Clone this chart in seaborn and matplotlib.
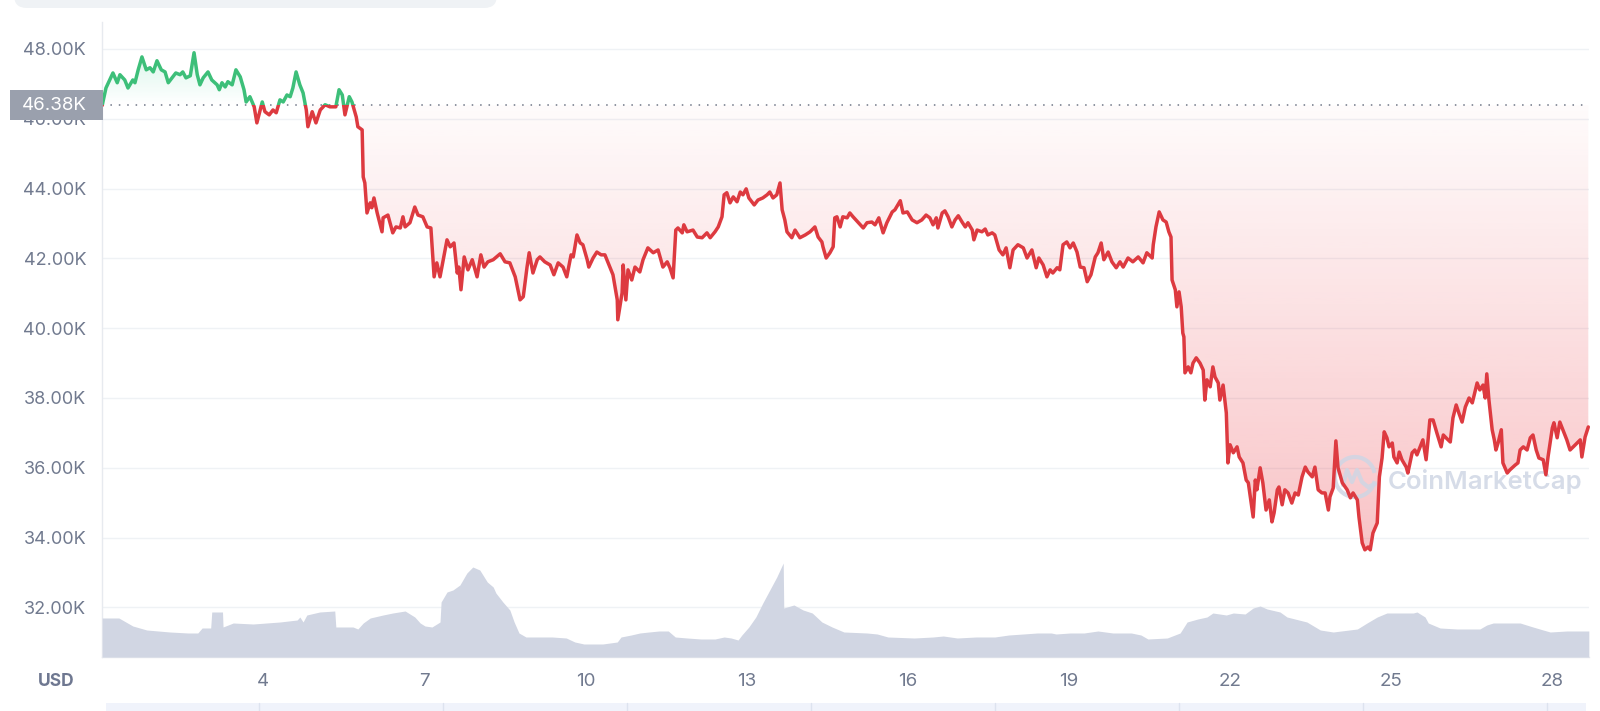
import numpy as np
import matplotlib
matplotlib.use("Agg")
import matplotlib.pyplot as plt
import seaborn as sns
from matplotlib import transforms
from matplotlib.patches import Rectangle, FancyBboxPatch, Arc
from matplotlib.lines import Line2D
from matplotlib.colors import to_rgb

# ---- price (USD); x = day of month ----
days_a = [1.00, 1.07, 1.20, 1.28, 1.33, 1.42, 1.48, 1.57, 1.61, 1.67,
          1.74, 1.82, 1.89, 1.95, 2.02, 2.10, 2.17, 2.23, 2.30, 2.37,
          2.45, 2.50, 2.56, 2.64, 2.71, 2.77, 2.82, 2.88, 2.97, 3.04,
          3.14, 3.18, 3.23, 3.29, 3.34, 3.42, 3.49, 3.57, 3.64, 3.68,
          3.75, 3.83, 3.88, 3.98, 4.03, 4.11, 4.18, 4.24, 4.31, 4.37,
          4.44, 4.50, 4.55, 4.61, 4.68, 4.74, 4.80, 4.83, 4.91, 4.98,
          5.06, 5.15, 5.24, 5.35, 5.41, 5.47, 5.52, 5.60, 5.65, 5.73,
          5.76, 5.84, 5.86, 5.89, 5.93, 5.99, 6.02, 6.06, 6.12, 6.21,
          6.23, 6.32, 6.41, 6.47, 6.55, 6.60, 6.64, 6.73, 6.82, 6.88,
          6.97, 7.05, 7.12, 7.18, 7.23, 7.29, 7.35, 7.42, 7.48, 7.55,
          7.61, 7.64, 7.68, 7.74, 7.81, 7.89, 7.98, 8.05, 8.11, 8.18]
price_a = [46380, 46880, 47310, 47030, 47260, 47110, 46880, 47110, 47030, 47400,
           47770, 47400, 47460, 47340, 47660, 47400, 47340, 47030, 47170, 47310,
           47260, 47340, 47170, 47230, 47890, 47260, 46970, 47170, 47340, 47110,
           46970, 46830, 47030, 46910, 47060, 46970, 47400, 47200, 46830, 46480,
           46630, 46340, 45880, 46480, 46200, 46110, 46250, 46170, 46540, 46480,
           46680, 46630, 46880, 47340, 46970, 46740, 46250, 45770, 46200, 45880,
           46250, 46400, 46340, 46340, 46830, 46680, 46110, 46630, 46480, 46050,
           45770, 45680, 44330, 44160, 43300, 43590, 43450, 43730, 43300, 42760,
           43160, 43240, 42730, 42900, 42870, 43190, 42900, 43020, 43470, 43240,
           43190, 42900, 42870, 41470, 41870, 41470, 41960, 42530, 42330, 42440,
           41580, 41750, 41100, 42040, 41670, 41960, 41470, 42100, 41750, 41900]

days_b = [8.28, 8.41, 8.50, 8.59, 8.69, 8.78, 8.84, 8.91, 8.95, 9.02,
          9.10, 9.15, 9.24, 9.34, 9.41, 9.49, 9.58, 9.65, 9.73, 9.77,
          9.84, 9.90, 9.95, 10.03, 10.06, 10.14, 10.21, 10.29, 10.36, 10.42,
          10.51, 10.59, 10.60, 10.68, 10.70, 10.75, 10.79, 10.86, 10.92, 11.01,
          11.07, 11.16, 11.26, 11.35, 11.44, 11.52, 11.57, 11.63, 11.68, 11.72,
          11.80, 11.83, 11.89, 12.00, 12.08, 12.17, 12.26, 12.32, 12.41, 12.47,
          12.54, 12.58, 12.63, 12.69, 12.75, 12.82, 12.88, 12.93, 12.99, 13.04,
          13.14, 13.21, 13.30, 13.38, 13.43, 13.49, 13.56, 13.62, 13.66, 13.71,
          13.75, 13.84, 13.90, 13.99, 14.09, 14.18, 14.27, 14.33, 14.40, 14.42,
          14.48, 14.55, 14.61, 14.64, 14.68, 14.74, 14.79, 14.87, 14.92, 14.98,
          15.07, 15.17, 15.24, 15.33, 15.39, 15.46, 15.54, 15.61, 15.71, 15.76]
price_b = [41960, 42130, 41900, 41870, 41470, 40810, 40900, 41750, 42160, 41580,
           41960, 42040, 41900, 41810, 41530, 41870, 41750, 41470, 42100, 42040,
           42670, 42440, 42390, 41960, 41750, 42010, 42180, 42100, 42100, 41870,
           41530, 40810, 40240, 41010, 41810, 40810, 41670, 41380, 41750, 41610,
           41960, 42300, 42160, 42240, 41750, 41900, 41730, 41440, 42810, 42870,
           42730, 42960, 42760, 42810, 42610, 42590, 42730, 42590, 42760, 42900,
           43190, 43820, 43880, 43590, 43760, 43620, 43900, 43820, 43990, 43730,
           43530, 43670, 43730, 43820, 43900, 43730, 43820, 44160, 43390, 43100,
           42760, 42590, 42810, 42590, 42670, 42760, 42900, 42610, 42470, 42330,
           42010, 42160, 42330, 43160, 43190, 42900, 43190, 43160, 43300, 43190,
           43040, 42870, 43020, 43040, 42960, 43160, 42730, 43020, 43330, 43390]

days_c = [15.86, 15.91, 15.99, 16.08, 16.17, 16.26, 16.34, 16.41, 16.47, 16.53,
          16.56, 16.64, 16.69, 16.75, 16.82, 16.88, 16.94, 17.01, 17.07, 17.12,
          17.20, 17.23, 17.29, 17.38, 17.44, 17.49, 17.57, 17.62, 17.70, 17.77,
          17.83, 17.90, 17.96, 18.05, 18.15, 18.22, 18.31, 18.39, 18.44, 18.52,
          18.59, 18.65, 18.70, 18.78, 18.83, 18.89, 18.96, 19.02, 19.08, 19.15,
          19.21, 19.28, 19.34, 19.41, 19.49, 19.54, 19.60, 19.65, 19.73, 19.80,
          19.88, 19.95, 20.01, 20.10, 20.19, 20.29, 20.38, 20.45, 20.55, 20.57,
          20.62, 20.68, 20.75, 20.81, 20.86, 20.90, 20.92, 20.98, 21.01, 21.05,
          21.09, 21.12, 21.14, 21.16, 21.22, 21.27, 21.31, 21.37, 21.44, 21.50,
          21.53, 21.57, 21.63, 21.68, 21.72, 21.78, 21.81, 21.87, 21.93, 21.96,
          22.00, 22.06, 22.13, 22.17, 22.24, 22.30, 22.34, 22.43, 22.47, 22.50]
price_c = [43650, 43300, 43330, 43100, 43020, 43100, 43240, 43160, 42960, 43160,
           42870, 43300, 43360, 43190, 42900, 43100, 43220, 43040, 42900, 43020,
           42810, 42530, 42810, 42760, 42840, 42670, 42730, 42670, 42240, 42100,
           42300, 41730, 42240, 42390, 42300, 42010, 42240, 41730, 42010, 41810,
           41470, 41670, 41580, 41730, 41670, 42390, 42470, 42300, 42440, 42180,
           41750, 41730, 41330, 41530, 42040, 42160, 42440, 41960, 42180, 41900,
           41730, 41900, 41750, 42010, 41900, 42040, 41870, 42160, 42010, 42390,
           42900, 43330, 43100, 43040, 42760, 42610, 41380, 41100, 40610, 41040,
           40610, 39860, 39750, 38720, 38890, 38720, 39000, 39150, 39000, 38800,
           37940, 38520, 38320, 38890, 38600, 38430, 37940, 38370, 37570, 36140,
           36660, 36430, 36600, 36310, 36140, 35650, 35570, 34590, 35650, 35370]

days_d = [22.56, 22.61, 22.67, 22.73, 22.78, 22.82, 22.88, 22.91, 22.97, 23.02,
          23.08, 23.15, 23.21, 23.27, 23.34, 23.40, 23.45, 23.53, 23.58, 23.64,
          23.71, 23.77, 23.83, 23.86, 23.92, 23.97, 24.01, 24.09, 24.18, 24.24,
          24.29, 24.37, 24.40, 24.46, 24.51, 24.57, 24.61, 24.66, 24.74, 24.78,
          24.83, 24.87, 24.92, 24.96, 25.02, 25.05, 25.11, 25.15, 25.20, 25.28,
          25.31, 25.39, 25.44, 25.48, 25.54, 25.59, 25.65, 25.69, 25.72, 25.78,
          25.85, 25.93, 25.97, 26.02, 26.10, 26.15, 26.21, 26.26, 26.32, 26.38,
          26.45, 26.51, 26.60, 26.65, 26.71, 26.75, 26.78, 26.82, 26.88, 26.92,
          26.95, 26.99, 27.05, 27.08, 27.16, 27.21, 27.31, 27.36, 27.40, 27.46,
          27.53, 27.59, 27.64, 27.70, 27.75, 27.83, 27.88, 27.92, 28.00, 28.03,
          28.09, 28.14, 28.27, 28.33, 28.39, 28.52, 28.55, 28.61, 28.67]
price_d = [36000, 35570, 34790, 35080, 34450, 34710, 35370, 35450, 34940, 35370,
           35280, 34990, 35280, 35220, 35740, 36020, 35880, 35740, 36020, 35370,
           35280, 35280, 34790, 35170, 35420, 36770, 36000, 35570, 35370, 35140,
           35280, 35080, 34590, 33850, 33650, 33730, 33650, 34130, 34420, 35740,
           36280, 37030, 36860, 36600, 36710, 36310, 36140, 36450, 36230, 36020,
           35850, 36430, 36510, 36370, 36600, 36800, 36230, 36860, 37370, 37370,
           37000, 36600, 36940, 36860, 36740, 37430, 37800, 37570, 37310, 37740,
           38000, 37860, 38430, 38230, 38370, 38000, 38690, 37940, 37090, 36800,
           36510, 36710, 37090, 36140, 35850, 35940, 36080, 36140, 36510, 36600,
           36510, 36860, 36940, 36510, 36280, 36230, 35800, 36310, 37140, 37290,
           36860, 37310, 36800, 36510, 36600, 36800, 36310, 36880, 37170]

# ---- 24h volume (billion USD, no scale shown on the chart) ----
vol_days = [1.00, 1.31, 1.57, 1.83, 2.26, 2.60, 2.78, 2.86, 3.02, 3.04,
            3.24, 3.25, 3.44, 3.81, 4.31, 4.63, 4.68, 4.74, 4.81, 5.05,
            5.33, 5.35, 5.67, 5.76, 5.86, 5.99, 6.23, 6.41, 6.64, 6.82,
            6.92, 7.01, 7.14, 7.29, 7.31, 7.42, 7.53, 7.66, 7.79, 7.90,
            8.03, 8.17, 8.28, 8.33, 8.46, 8.59, 8.67, 8.76, 8.89, 9.38,
            9.64, 9.80, 9.97, 10.32, 10.59, 10.66, 10.85, 11.01, 11.18, 11.37,
            11.54, 11.67, 11.89, 12.15, 12.41, 12.58, 12.71, 12.84, 12.91, 13.04,
            13.17, 13.30, 13.43, 13.56, 13.68, 13.69, 13.88, 14.05, 14.22, 14.40,
            14.59, 14.81, 15.24, 15.43, 15.63, 16.12, 16.47, 16.66, 16.92, 17.27,
            17.62, 17.88, 18.15, 18.41, 18.67, 18.76, 19.02, 19.28, 19.54, 19.82,
            20.16, 20.34, 20.47, 20.83, 21.07, 21.20, 21.40, 21.57, 21.68, 21.93,
            22.06, 22.28, 22.43, 22.56, 22.69, 22.93, 23.06, 23.43, 23.68, 23.92,
            24.37, 24.55, 24.74, 24.92, 25.41, 25.48, 25.63, 25.69, 25.91, 26.23,
            26.65, 26.78, 26.90, 27.40, 27.64, 27.83, 27.96, 28.27, 28.68]
vol_bn = [19.5, 19.5, 15.5, 13.5, 12.5, 12, 12, 14.5, 14.5, 22.5,
          22.5, 15, 17, 16.5, 17.5, 18.5, 20, 17.5, 21, 22.5,
          23, 15, 15, 14, 17, 19.5, 21, 22, 23, 20,
          17, 15.5, 15, 17.5, 27.5, 32.5, 33.5, 36, 42, 45,
          43.5, 37.5, 35, 32, 27.5, 23.5, 17.5, 12, 10, 10,
          9.5, 7.5, 6.5, 6.5, 7.5, 10, 11, 12, 12.5, 13,
          13, 10, 9.5, 9, 9, 10, 9.5, 8.5, 11, 15,
          20, 27, 33.5, 40, 47, 24.5, 26, 23.5, 22, 17.5,
          15, 12.5, 12, 11.5, 10, 9.5, 10, 10.5, 9.5, 10,
          10, 11, 11.5, 12, 12, 11.5, 12, 12, 13, 12,
          12, 11, 9, 9.5, 12, 17.5, 19, 20, 22, 21,
          22, 21.5, 24.5, 25.5, 24, 22.5, 20, 17.5, 13.5, 12.5,
          14, 17, 20, 22, 22, 22.5, 20, 17, 14.5, 14,
          14, 16, 17, 17, 15, 13.5, 12.5, 13, 13]

open_price = 46380
price_ticks = [32000, 34000, 36000, 38000, 40000, 42000, 44000, 46000, 48000]
day_ticks = [4, 7, 10, 13, 16, 19, 22, 25, 28]

days = np.array(days_a + days_b + days_c + days_d)
price = np.array(price_a + price_b + price_c + price_d, dtype=float)
assert len(days) == len(price) and len(vol_days) == len(vol_bn)

GREEN = "#3dbf79"
RED = "#dd3a40"
LABEL = "#717a8f"

sns.set_style("white")
plt.rcParams["font.family"] = ["Inter", "DejaVu Sans"]

W, H = 1600, 711


def fx(px):
    return px / W


def fy(py):
    return 1 - py / H


fig = plt.figure(figsize=(16, 7.11), dpi=100)
pos = [fx(102.2), fy(657), fx(1589) - fx(102.2), fy(22) - fy(657)]
ax = fig.add_axes(pos)
ax_vol = fig.add_axes(pos, sharex=ax)
ax_vol.set_zorder(ax.get_zorder() + 1)
ax_vol.patch.set_visible(False)

x0, x1 = 1.0, 28.683
y0, y1 = 30580, 48770


def gradient_fill(lower, upper, color, a_bot, a_top, lo, hi):
    poly = ax.fill_between(days, lower, upper, facecolor="none", edgecolor="none")
    rgba = np.zeros((256, 1, 4))
    rgba[..., :3] = to_rgb(color)
    rgba[:, 0, 3] = np.linspace(a_bot, a_top, 256)
    img = ax.imshow(rgba, extent=[days.min(), days.max(), lo, hi], origin="lower",
                    aspect="auto", interpolation="bilinear", zorder=1)
    img.set_clip_path(poly.get_paths()[0], transform=ax.transData)


# gradient areas between the price and the opening price
gradient_fill(open_price, np.maximum(price, open_price), "#16c784", 0.0, 0.16,
              open_price, price.max())
gradient_fill(np.minimum(price, open_price), open_price, "#ea3943", 0.30, 0.02,
              price.min(), open_price)

# price line, green above the open, red below
for col, rect in [(GREEN, Rectangle((0, open_price), 100, 1e6, transform=ax.transData)),
                  (RED, Rectangle((0, open_price - 1e6), 100, 1e6, transform=ax.transData))]:
    sns.lineplot(x=days, y=price, ax=ax, color=col, linewidth=2.5, legend=False,
                 errorbar=None, zorder=3)
    ln = ax.lines[-1]
    ln.set_solid_joinstyle("round")
    ln.set_clip_path(rect)

ax.axhline(open_price, color="#6f7686", lw=1.1, ls=(0, (1, 4.5)), zorder=2)

# volume area
ax_vol.fill_between(vol_days, vol_bn, color="#d1d6e3", lw=0)
ax_vol.set_ylim(0, 317.5)
ax_vol.axis("off")

ax.set_xlim(x0, x1)
ax.set_ylim(y0, y1)
ax.set_yticks(price_ticks)
ax.set_yticklabels([f"{v / 1000:.2f}K" for v in price_ticks])
ax.set_xticks(day_ticks)
ax.set_xticklabels([str(d) for d in day_ticks])
ax.set_xlabel("")
ax.set_ylabel("")
ax.yaxis.grid(True, color="#eff2f5", lw=1.0)
ax.xaxis.grid(False)
ax.set_axisbelow(True)
for s in ["top", "right"]:
    ax.spines[s].set_visible(False)
for s in ["left", "bottom"]:
    ax.spines[s].set_color("#e7eaef")
    ax.spines[s].set_linewidth(1.0)
ax.tick_params(axis="y", length=0, pad=11.5, labelsize=13, labelcolor=LABEL)
ax.tick_params(axis="x", direction="out", length=4.3, width=1.1, color="#58667e",
               pad=7, labelsize=13.5, labelcolor=LABEL)

# opening price marker on the y axis
blend = transforms.blended_transform_factory(fig.transFigure, ax.transData)
ax.add_patch(Rectangle((fx(10), open_price - 430), fx(103) - fx(10), 860,
                       transform=blend, color="#9aa0ad", lw=0, zorder=6, clip_on=False))
ax.text(fx(87), open_price, f"{open_price / 1000:.2f}K", transform=blend, ha="right",
        va="center", fontsize=13.5, color="white", zorder=7, clip_on=False)

fig.text(fx(56), fy(681), "USD", ha="center", va="center", fontsize=12.5,
         fontweight="bold", color="#6f7891")

# CoinMarketCap watermark
wm = "#cfd6e4"
ax.text(fx(1388), fy(481), "CoinMarketCap", transform=fig.transFigure, ha="left",
        va="center", fontsize=18.5, fontweight="semibold", color=wm, alpha=0.85,
        zorder=2.5, clip_on=False)
ax.add_patch(Arc((fx(1355), fy(477)), 40 / W, 40 / H, theta1=25, theta2=335,
                 transform=fig.transFigure, color=wm, lw=3, alpha=0.85, zorder=2.5,
                 clip_on=False))
ax.add_line(Line2D([fx(1343), fx(1347), fx(1352), fx(1357), fx(1362), fx(1368), fx(1375)],
                   [fy(485), fy(470), fy(482), fy(470), fy(482), fy(487), fy(484)],
                   transform=fig.transFigure, color=wm, lw=3, alpha=0.85, zorder=2.5,
                   clip_on=False, solid_joinstyle="round"))

# bits of the surrounding page: toolbar edge on top, range navigator below
fig.patches.append(FancyBboxPatch((fx(14), fy(8)), fx(497) - fx(14), 30 / H,
                                  boxstyle="round,pad=0,rounding_size=0.008",
                                  mutation_aspect=W / H, transform=fig.transFigure,
                                  color="#eff2f5", lw=0))
fig.patches.append(Rectangle((fx(106), 0), fx(1586) - fx(106), 8 / H,
                             transform=fig.transFigure, color="#f0f3fb", lw=0))
for k in range(8):
    fig.lines.append(Line2D([fx(259 + 184 * k)] * 2, [0, 8 / H],
                            transform=fig.transFigure, color="#dde3ef", lw=1))

fig.savefig("out.png", dpi=100)
